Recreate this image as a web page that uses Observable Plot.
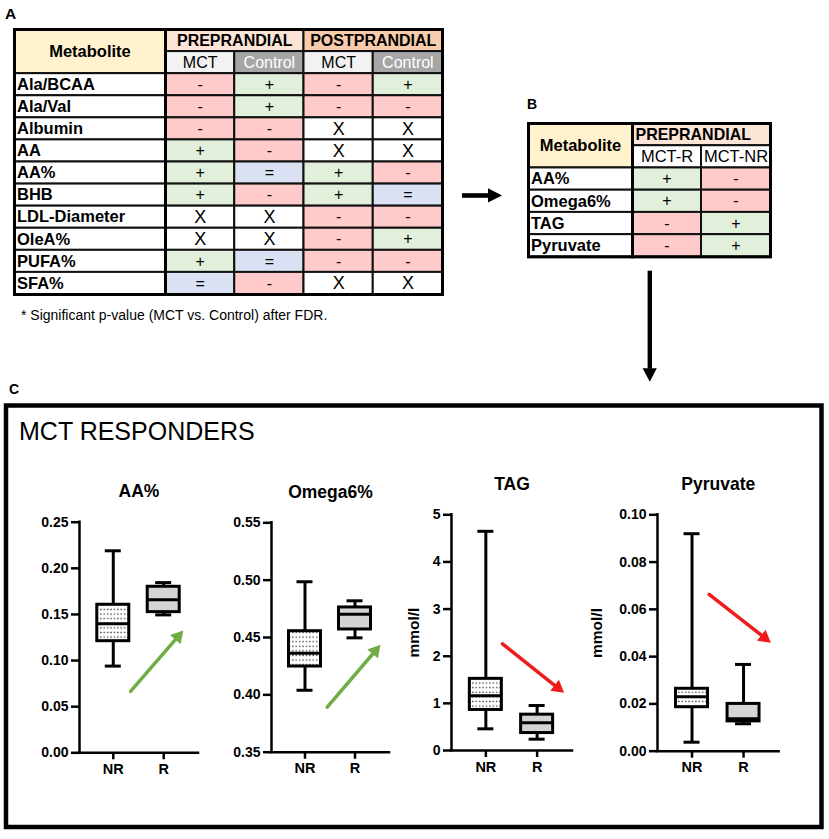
<!DOCTYPE html>
<html><head><meta charset="utf-8">
<script src="https://cdn.jsdelivr.net/npm/d3@7"></script>
<script src="https://cdn.jsdelivr.net/npm/@observablehq/plot@0.6"></script>
<style>
body{margin:0;background:#fff;}
#root{position:relative;width:829px;height:839px;overflow:hidden;font-family:"Liberation Sans",Arial,sans-serif;background:#fff;}
#root > *{position:absolute;}
.lbl{font-weight:bold;color:#000;line-height:1;white-space:nowrap;}
</style></head>
<body>
<svg style="position:absolute;width:0;height:0">
  <defs>
    <pattern id="dots" patternUnits="userSpaceOnUse" width="3.4" height="4.6">
      <rect width="3.4" height="4.6" fill="#ffffff"></rect>
      <rect x="1" y="1.6" width="1.3" height="1.3" fill="#333"></rect>
    </pattern>
  </defs>
</svg>
<div id="root"></div>
<script>
// ---------------- DATA ----------------
const tableAPhases = ["PREPRANDIAL", "POSTPRANDIAL"];
const tableAGroups = ["MCT", "Control", "MCT", "Control"];
const tableAMetabolites = ["Ala/BCAA", "Ala/Val", "Albumin", "AA", "AA%", "BHB", "LDL-Diameter", "OleA%", "PUFA%", "SFA%"];
const tableAValues = [
  ["-", "+", "-", "+"],
  ["-", "+", "-", "-"],
  ["-", "-", "X", "X"],
  ["+", "-", "X", "X"],
  ["+", "=", "+", "-"],
  ["+", "-", "+", "="],
  ["X", "X", "-", "-"],
  ["X", "X", "-", "+"],
  ["+", "=", "-", "-"],
  ["=", "-", "X", "X"]
];
const tableAFootnote = "* Significant p-value (MCT vs. Control) after FDR.";

const tableBPhase = "PREPRANDIAL";
const tableBGroups = ["MCT-R", "MCT-NR"];
const tableBMetabolites = ["AA%", "Omega6%", "TAG", "Pyruvate"];
const tableBValues = [
  ["+", "-"],
  ["+", "-"],
  ["-", "+"],
  ["-", "+"]
];

const metaboliteHeader = "Metabolite";
const panelHeading = "MCT RESPONDERS";
const panelLetters = ["A", "B", "C"];
const panelTitles = ["AA%", "Omega6%", "TAG", "Pyruvate"];
const panelYLabels = [null, null, "mmol/l", "mmol/l"];
const boxGroups = ["NR", "R"];

// five-number summaries: [min, q1, median, q3, max]
const aaNR = [0.094, 0.121, 0.140, 0.1605, 0.219];
const aaR = [0.1495, 0.1525, 0.166, 0.180, 0.1845];
const omegaNR = [0.404, 0.4247, 0.4363, 0.4555, 0.4986];
const omegaR = [0.4497, 0.457, 0.4703, 0.4762, 0.482];
const tagNR = [0.46, 0.86, 1.16, 1.52, 4.65];
const tagR = [0.24, 0.37, 0.59, 0.76, 0.955];
const pyrNR = [0.0038, 0.0186, 0.0230, 0.0264, 0.092];
const pyrR = [0.0116, 0.0126, 0.0137, 0.0200, 0.0367];

const yTicksAA = [0, 0.05, 0.10, 0.15, 0.20, 0.25];
const yTicksOmega = [0.35, 0.40, 0.45, 0.50, 0.55];
const yTicksTAG = [0, 1, 2, 3, 4, 5];
const yTicksPyr = [0, 0.02, 0.04, 0.06, 0.08, 0.10];

// trend arrows [x1, y1, x2, y2] in data units (x: NR = 1, R = 2)
const trendAA = [1.342, 0.0665, 2.388, 0.1326];
const trendOmega = [1.444, 0.3892, 2.51, 0.4436];
const trendTAG = [1.325, 2.264, 2.526, 1.224];
const trendPyr = [1.332, 0.0663, 2.53, 0.0459];

// ---------------- STYLE ----------------
const FONT = '"Liberation Sans", Arial, sans-serif';
const symbolFill = {"+": "#e2efda", "-": "#ffcaca", "=": "#d9e1f2", "X": "#ffffff"};
const phaseFill = ["#fce4d6", "#f8cbad"];
const groupFill = ["#f2f2f2", "#a6a6a6"];
const groupText = ["#000000", "#ffffff"];
const root = document.getElementById("root");

function place(el, left, top) {
  el.style.position = "absolute";
  el.style.left = left + "px";
  el.style.top = top + "px";
  root.appendChild(el);
  return el;
}
function label(text, left, top, size, weight) {
  const d = document.createElement("div");
  d.className = "lbl";
  d.textContent = text;
  d.style.fontSize = size + "px";
  d.style.fontWeight = weight || "bold";
  return place(d, left, top);
}
function tablePlot(width, height, cols, rows, marks) {
  return Plot.plot({
    width, height, margin: 0,
    x: {domain: [0, cols], range: [0, width], axis: null},
    y: {domain: [0, rows], range: [0, height], axis: null},
    style: {background: "none", overflow: "visible", fontFamily: FONT, color: "black"},
    marks
  });
}

// ---------------- TABLE A ----------------
{
  const nRows = tableAMetabolites.length + 2;
  const W1 = 151, W2 = 277, Ht = 265;
  const labelCells = tableAMetabolites.map((m, i) => ({y1: i + 2, y2: i + 3, label: m}));
  const left = tablePlot(W1, Ht, 1, nRows, [
    Plot.rect([{y1: 0, y2: 2}], {x1: 0, x2: 1, y1: "y1", y2: "y2", fill: "#fff2cc", stroke: "#111", strokeWidth: 2}),
    Plot.rect(labelCells, {x1: 0, x2: 1, y1: "y1", y2: "y2", fill: "#fff", stroke: "#111", strokeWidth: 2}),
    Plot.text([metaboliteHeader], {x: 0.5, y: 1, fontSize: 16.5, fontWeight: "bold"}),
    Plot.text(labelCells, {x: 0, y: d => d.y1 + 0.5, text: "label", textAnchor: "start", dx: 2.5, fontSize: 16.5, fontWeight: "bold"}),
    Plot.frame({stroke: "#000", strokeWidth: 3})
  ]);
  place(left, 14, 29);

  const phases = tableAPhases.map((p, i) => ({x1: 2 * i, x2: 2 * i + 2, label: p, fill: phaseFill[i]}));
  const groups = tableAGroups.map((g, i) => ({x1: i, x2: i + 1, label: g, fill: groupFill[i % 2], color: groupText[i % 2]}));
  const cells = [];
  tableAValues.forEach((row, r) => row.forEach((v, c) => cells.push({x1: c, x2: c + 1, y1: r + 2, y2: r + 3, v})));
  const right = tablePlot(W2, Ht, 4, nRows, [
    Plot.rect(phases, {x1: "x1", x2: "x2", y1: 0, y2: 1, fill: "fill", stroke: "#111", strokeWidth: 2}),
    Plot.rect(groups, {x1: "x1", x2: "x2", y1: 1, y2: 2, fill: "fill", stroke: "#111", strokeWidth: 2}),
    Plot.rect(cells, {x1: "x1", x2: "x2", y1: "y1", y2: "y2", fill: d => symbolFill[d.v], stroke: "#111", strokeWidth: 2}),
    Plot.text(phases, {x: d => (d.x1 + d.x2) / 2, y: 0.5, text: "label", fontSize: 16, fontWeight: "bold"}),
    Plot.text(groups, {x: d => (d.x1 + d.x2) / 2, y: 1.5, text: "label", fill: "color", fontSize: 16}),
    Plot.text(cells.filter(d => d.v !== "X"), {x: d => d.x1 + 0.5, y: d => d.y1 + 0.5, text: "v", fontSize: 16}),
    Plot.text(cells.filter(d => d.v === "X"), {x: d => d.x1 + 0.5, y: d => d.y1 + 0.5, text: "v", fontSize: 18}),
    Plot.frame({stroke: "#000", strokeWidth: 3})
  ]);
  place(right, 165, 29);
}

// ---------------- TABLE B ----------------
{
  const nRows = tableBMetabolites.length + 2;
  const W1 = 104, W2 = 138, Ht = 133.4;
  const labelCells = tableBMetabolites.map((m, i) => ({y1: i + 2, y2: i + 3, label: m}));
  const left = tablePlot(W1, Ht, 1, nRows, [
    Plot.rect([{y1: 0, y2: 2}], {x1: 0, x2: 1, y1: "y1", y2: "y2", fill: "#fff2cc", stroke: "#111", strokeWidth: 2}),
    Plot.rect(labelCells, {x1: 0, x2: 1, y1: "y1", y2: "y2", fill: "#fff", stroke: "#111", strokeWidth: 2}),
    Plot.text([metaboliteHeader], {x: 0.5, y: 1, fontSize: 16.5, fontWeight: "bold"}),
    Plot.text(labelCells, {x: 0, y: d => d.y1 + 0.5, text: "label", textAnchor: "start", dx: 2.5, fontSize: 16.5, fontWeight: "bold"}),
    Plot.frame({stroke: "#000", strokeWidth: 3})
  ]);
  place(left, 528, 123);

  const groups = tableBGroups.map((g, i) => ({x1: i, x2: i + 1, label: g}));
  const cells = [];
  tableBValues.forEach((row, r) => row.forEach((v, c) => cells.push({x1: c, x2: c + 1, y1: r + 2, y2: r + 3, v})));
  const right = tablePlot(W2, Ht, 2, nRows, [
    Plot.rect([tableBPhase], {x1: 0, x2: 2, y1: 0, y2: 1, fill: "#fce4d6", stroke: "#111", strokeWidth: 2}),
    Plot.rect(groups, {x1: "x1", x2: "x2", y1: 1, y2: 2, fill: "#fff", stroke: "#111", strokeWidth: 2}),
    Plot.rect(cells, {x1: "x1", x2: "x2", y1: "y1", y2: "y2", fill: d => symbolFill[d.v], stroke: "#111", strokeWidth: 2}),
    Plot.text([tableBPhase], {x: 0, y: 0.5, textAnchor: "start", dx: 3, fontSize: 16, fontWeight: "bold"}),
    Plot.text(groups, {x: d => (d.x1 + d.x2) / 2, y: 1.5, text: "label", fontSize: 16.5}),
    Plot.text(cells, {x: d => d.x1 + 0.5, y: d => d.y1 + 0.5, text: "v", fontSize: 16}),
    Plot.frame({stroke: "#000", strokeWidth: 3})
  ]);
  place(right, 632, 123);
}

// ---------------- BOX PLOTS ----------------
function boxPanel(cfg) {
  const {title, ylabel, labelX, nr, r, yDomain, yTicks, fmt, trend, color, axisX, axisRight, yTop, yBottom} = cfg;
  const top = 460, bottom = 800, mL = 75, mR = 20;
  const width = mL + (axisRight - axisX) + mR, height = bottom - top;
  const mT = yTop - top, mB = bottom - yBottom;
  const xDom = [0.33, 2.69];
  const xs = d3.scaleLinear(xDom, [mL, width - mR]);
  const ys = d3.scaleLinear(yDomain, [height - mB, mT]);
  const rows = [nr, r].map((s, i) => ({group: boxGroups[i], pos: i + 1, min: s[0], q1: s[1], med: s[2], q3: s[3], max: s[4]}));
  const unit = xs(1) - xs(0);
  const hw = 16 / unit, cw = 8 / unit;
  const [tx1, ty1, tx2, ty2] = trend;
  const px1 = xs(tx1), py1 = ys(ty1), px2 = xs(tx2), py2 = ys(ty2);
  const ang = Math.atan2(py2 - py1, px2 - px1);
  const headR = 5.2, back = 1.555 * headR;
  const head = {x: xs.invert(px2 - back * Math.cos(ang)), y: ys.invert(py2 - back * Math.sin(ang))};
  const rot = ang * 180 / Math.PI + 90;
  const marks = [
    Plot.ruleX(rows, {x: "pos", y1: "min", y2: "max", strokeWidth: 3}),
    Plot.ruleY(rows, {y: "min", x1: d => d.pos - cw, x2: d => d.pos + cw, strokeWidth: 3}),
    Plot.ruleY(rows, {y: "max", x1: d => d.pos - cw, x2: d => d.pos + cw, strokeWidth: 3}),
    Plot.rect(rows.filter(d => d.group === "NR"), {x1: d => d.pos - hw, x2: d => d.pos + hw, y1: "q1", y2: "q3", fill: "url(#dots)", stroke: "black", strokeWidth: 3}),
    Plot.rect(rows.filter(d => d.group === "R"), {x1: d => d.pos - hw, x2: d => d.pos + hw, y1: "q1", y2: "q3", fill: "#d4d4d4", stroke: "black", strokeWidth: 3}),
    Plot.ruleY(rows, {y: "med", x1: d => d.pos - hw, x2: d => d.pos + hw, strokeWidth: 3}),
    Plot.ruleX([xDom[0]], {strokeWidth: 2.5, strokeLinecap: "square"}),
    Plot.ruleY([yDomain[0]], {strokeWidth: 2.5, strokeLinecap: "square"}),
    Plot.axisY({ticks: yTicks, tickFormat: fmt, tickSize: 8, tickPadding: 3, strokeWidth: 2.5, fontSize: 14, fontWeight: "bold", label: null}),
    Plot.axisX({ticks: [1, 2], tickFormat: d => boxGroups[d - 1], tickSize: 7, tickPadding: 4, strokeWidth: 2.5, fontSize: 14.5, fontWeight: "bold", label: null}),
    Plot.arrow([trend], {x1: d => d[0], y1: d => d[1], x2: d => d[2], y2: d => d[3], headLength: 0, insetEnd: back, stroke: color, strokeWidth: 3.5}),
    Plot.dot([head], {x: "x", y: "y", symbol: "triangle", r: headR, rotate: rot, fill: color, stroke: "none"}),
    Plot.text([title], {frameAnchor: "top", lineAnchor: "bottom", dy: -25, fontSize: 17.5, fontWeight: "bold"})
  ];
  if (ylabel) marks.push(Plot.text([ylabel], {frameAnchor: "left", textAnchor: "middle", lineAnchor: "middle", rotate: -90, dx: labelX - axisX, fontSize: 15.5, fontWeight: "bold"}));
  const p = Plot.plot({
    width, height, marginLeft: mL, marginRight: mR, marginTop: mT, marginBottom: mB,
    x: {domain: xDom, axis: null}, y: {domain: yDomain, axis: null},
    style: {background: "none", overflow: "visible", fontFamily: FONT, color: "black"},
    marks
  });
  place(p, axisX - mL, top);
}

const green = "#70ad47", red = "#f01c1c";
const f2 = d3.format(".2f");
boxPanel({title: panelTitles[0], ylabel: panelYLabels[0], nr: aaNR, r: aaR, yDomain: [0, 0.25], yTicks: yTicksAA, fmt: f2, trend: trendAA, color: green, axisX: 79, axisRight: 198, yTop: 521.7, yBottom: 752.3});
boxPanel({title: panelTitles[1], ylabel: panelYLabels[1], nr: omegaNR, r: omegaR, yDomain: [0.35, 0.55], yTicks: yTicksOmega, fmt: f2, trend: trendOmega, color: green, axisX: 271, axisRight: 389, yTop: 522.3, yBottom: 751.7});
boxPanel({title: panelTitles[2], ylabel: panelYLabels[2], labelX: 413, nr: tagNR, r: tagR, yDomain: [0, 5], yTicks: yTicksTAG, fmt: d3.format("d"), trend: trendTAG, color: red, axisX: 450.7, axisRight: 571.7, yTop: 514.3, yBottom: 750});
boxPanel({title: panelTitles[3], ylabel: panelYLabels[3], labelX: 596, nr: pyrNR, r: pyrR, yDomain: [0, 0.10], yTicks: yTicksPyr, fmt: f2, trend: trendPyr, color: red, axisX: 656.7, axisRight: 778.3, yTop: 514.3, yBottom: 750.7});

// ---------------- DECORATION ----------------
const NS = "http://www.w3.org/2000/svg";
const deco = document.createElementNS(NS, "svg");
deco.setAttribute("width", 829); deco.setAttribute("height", 839);
deco.style.pointerEvents = "none";
deco.innerHTML = `
  <rect x="6" y="405.5" width="815.5" height="421.5" fill="none" stroke="#000" stroke-width="4.5"/>
  <rect x="462" y="193.2" width="27" height="4.6" fill="#000"/>
  <polygon points="488,188.3 502,195.5 488,202.5" fill="#000"/>
  <rect x="647.6" y="270.7" width="4.4" height="98" fill="#000"/>
  <polygon points="642.6,368.2 656.8,368.2 649.8,381.7" fill="#000"/>`;
place(deco, 0, 0);

// ---------------- TEXT LABELS ----------------
label(panelLetters[0], 5, 6, 15.5);
label(panelLetters[1], 527, 97, 14);
label(panelLetters[2], 9, 382, 14);
label(panelHeading, 19, 419, 25, "normal");
label(tableAFootnote, 21, 308, 14, "normal");
</script>
</body></html>
